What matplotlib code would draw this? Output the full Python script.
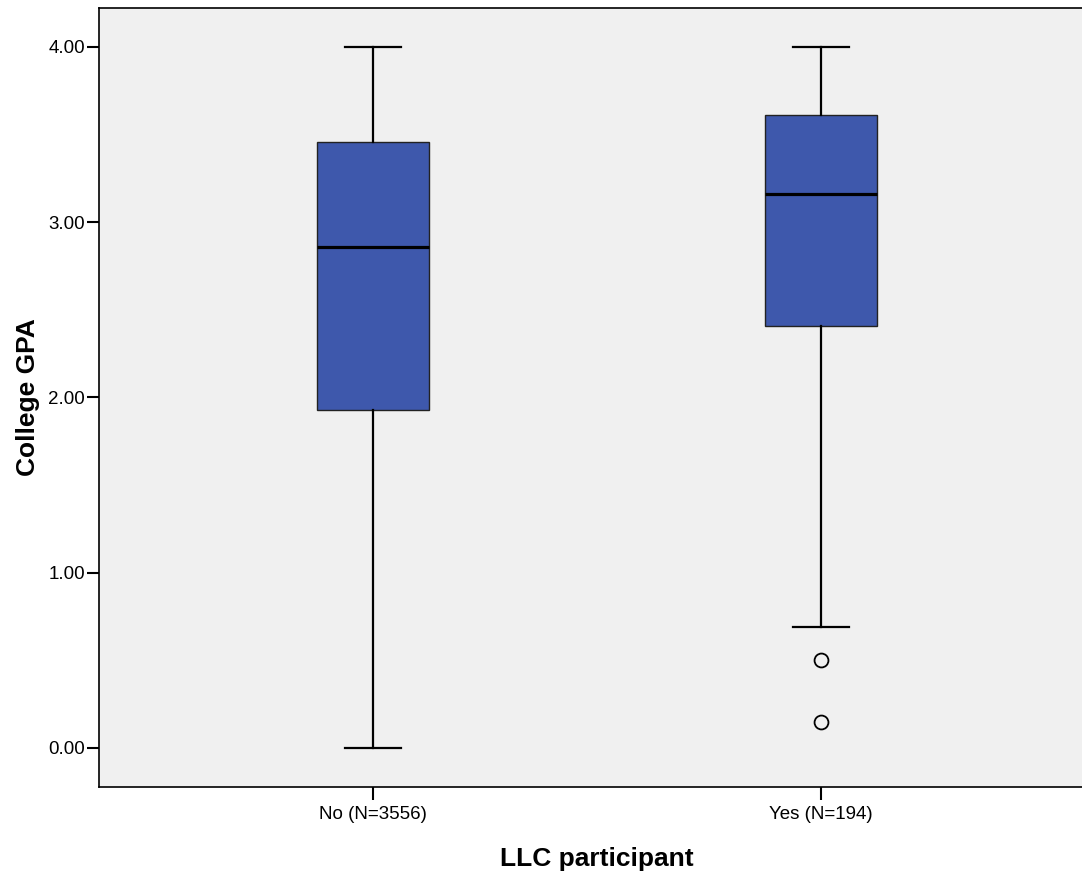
import matplotlib.pyplot as plt

plt.rcParams['font.family'] = ['Liberation Sans', 'DejaVu Sans']

# Box summaries
groups = ['No (N=3556)', 'Yes (N=194)']
q1 = [1.93, 2.41]
med = [2.86, 3.16]
q3 = [3.46, 3.61]
whislo = [0.00, 0.69]
whishi = [4.00, 4.00]
fliers = [[], [0.50, 0.15]]

stats = []
for i in range(len(groups)):
    stats.append(dict(label=groups[i], q1=q1[i], med=med[i], q3=q3[i],
                      whislo=whislo[i], whishi=whishi[i], fliers=fliers[i]))

fig = plt.figure(figsize=(10.82, 8.75), dpi=100)
# right edge runs past the image, like the cropped original
ax = fig.add_axes([0.0915, 0.1006, 0.9205, 0.8903])
ax.set_facecolor('#f0f0f0')

ax.bxp(stats, positions=[1, 2], widths=0.25, patch_artist=True,
       boxprops=dict(facecolor='#3e58ac', edgecolor='#222222', linewidth=1.0),
       medianprops=dict(color='black', linewidth=2.3),
       whiskerprops=dict(color='black', linewidth=1.6),
       capprops=dict(color='black', linewidth=1.6),
       capwidths=0.125,
       flierprops=dict(marker='o', markerfacecolor='none', markeredgecolor='black',
                       markersize=10, markeredgewidth=1.3))

ax.set_xlim(0.388, 2.612)
ax.set_ylim(-0.2225, 4.222)
ax.set_yticks([0, 1, 2, 3, 4])
ax.set_yticklabels(['%.2f' % v for v in [0, 1, 2, 3, 4]])
ax.tick_params(axis='both', labelsize=13.5, length=9, width=1.5, direction='out', pad=1)
ax.tick_params(axis='x', pad=5)

for s in ['left', 'bottom', 'top']:
    ax.spines[s].set_linewidth(1.2)
ax.spines['right'].set_visible(False)

ax.set_xlabel('LLC participant', fontsize=19, fontweight='bold', labelpad=17)
ax.set_ylabel('College GPA', fontsize=19, fontweight='bold', labelpad=6)

fig.savefig('out.png', dpi=100)
